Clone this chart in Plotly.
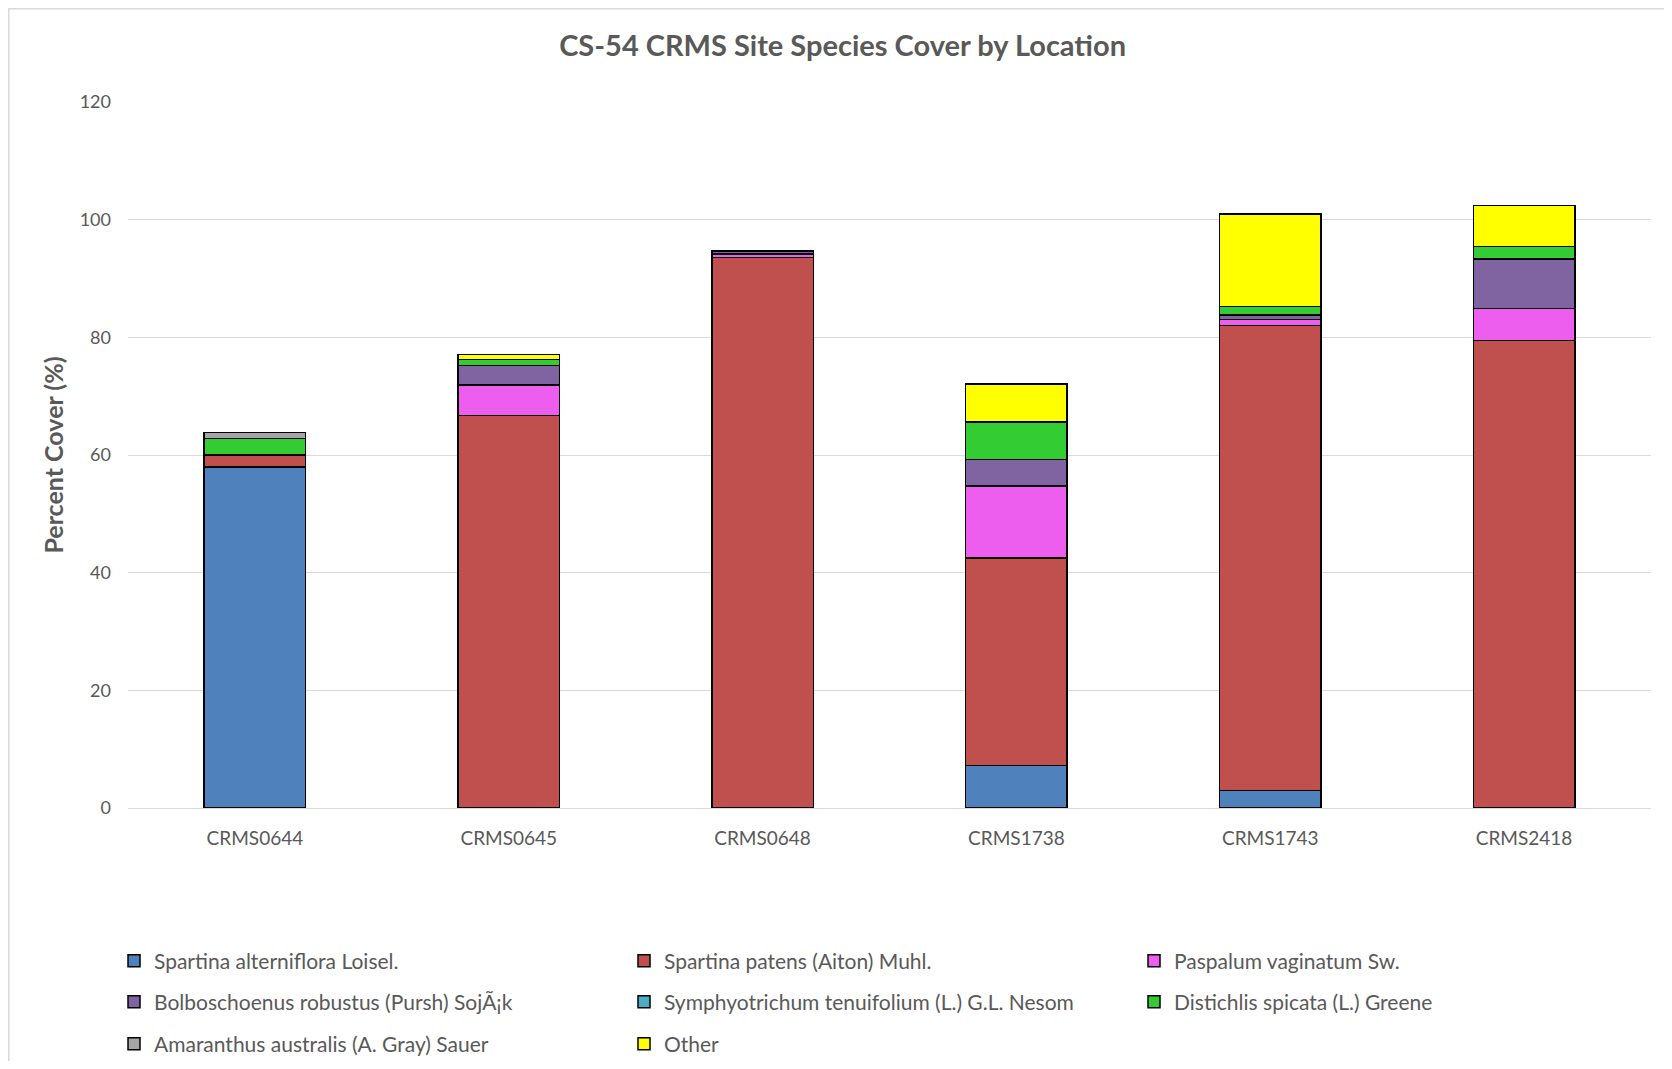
import plotly.graph_objects as go

sites = ["CRMS0644", "CRMS0645", "CRMS0648", "CRMS1738", "CRMS1743", "CRMS2418"]

species = [
    "Spartina alterniflora Loisel.",
    "Spartina patens (Aiton) Muhl.",
    "Paspalum vaginatum Sw.",
    "Bolboschoenus robustus (Pursh) SojÃ¡k",
    "Symphyotrichum tenuifolium (L.) G.L. Nesom",
    "Distichlis spicata (L.) Greene",
    "Amaranthus australis (A. Gray) Sauer",
    "Other",
]

spartina_alterniflora = [58.0, 0.0, 0.0, 7.2, 3.0, 0.0]
spartina_patens = [2.0, 66.7, 93.6, 35.3, 79.0, 79.5]
paspalum_vaginatum = [0.0, 5.2, 0.6, 12.2, 1.0, 5.4]
bolboschoenus_robustus = [0.0, 3.3, 0.5, 4.5, 0.8, 8.4]
symphyotrichum_tenuifolium = [0.0, 0.0, 0.0, 0.0, 0.0, 0.0]
distichlis_spicata = [2.8, 1.0, 0.0, 6.4, 1.4, 2.1]
amaranthus_australis = [1.0, 0.0, 0.0, 0.0, 0.0, 0.0]
other = [0.0, 0.9, 0.0, 6.5, 15.8, 7.0]

series = [
    spartina_alterniflora, spartina_patens, paspalum_vaginatum, bolboschoenus_robustus,
    symphyotrichum_tenuifolium, distichlis_spicata, amaranthus_australis, other,
]
colors = ["#4f81bd", "#c0504d", "#ee5eee", "#8064a2", "#4bacc6", "#33cc33", "#a5a5a5", "#ffff00"]
legend_ids = ["legend", "legend", "legend", "legend2", "legend2", "legend2", "legend3", "legend3"]

FONT = "Lato, 'Open Sans', sans-serif"
GREY = "#595959"

fig = go.Figure()
for name, vals, col, lg in zip(species, series, colors, legend_ids):
    fig.add_trace(go.Bar(
        x=sites, y=vals, name=name, legend=lg,
        marker=dict(color=col, line=dict(color="#000000", width=1.5)),
    ))

# page body has an 8px margin, so figure coords = screen coords - 8
W, H = 1656, 1053
L, R, T, B = 120, 13, 94, 253
pw, ph = W - L - R, H - T - B

def py(p):
    return (H - B - p) / ph

def px_(p):
    return (p - L) / pw

legend_common = dict(
    orientation="h", xanchor="left", yanchor="middle", x=px_(106),
    entrywidth=465, entrywidthmode="pixels", traceorder="normal",
    font=dict(family=FONT, size=21, color=GREY), bgcolor="rgba(0,0,0,0)",
)

fig.update_layout(
    width=W, height=H,
    margin=dict(l=L, r=R, t=T, b=B, autoexpand=False),
    barmode="stack", bargap=0.6,
    paper_bgcolor="white", plot_bgcolor="white",
    font=dict(family=FONT, color=GREY),
    title=dict(text="<b>CS-54 CRMS Site Species Cover by Location</b>", x=0.504, xanchor="center",
               y=1 - 38 / H, yanchor="middle", font=dict(family=FONT, size=29, color=GREY)),
    xaxis=dict(showgrid=False, showline=False, tickfont=dict(family=FONT, size=19, color=GREY),
               ticks="outside", ticklen=13, tickcolor="rgba(0,0,0,0)"),
    yaxis=dict(range=[0, 120], dtick=20, showgrid=True, gridcolor="#d9d9d9", gridwidth=1,
               zeroline=True, zerolinecolor="#d9d9d9", zerolinewidth=1, showline=False,
               tickfont=dict(family=FONT, size=18, color=GREY), ticklabelstandoff=16,
               title=dict(text="<b>Percent Cover (%)</b>", font=dict(family=FONT, size=25, color=GREY),
                          standoff=8)),
    legend=dict(**legend_common, y=py(953)),
    legend2=dict(**legend_common, y=py(994)),
    legend3=dict(**legend_common, y=py(1036)),
    shapes=[dict(type="rect", xref="paper", yref="paper",
                 x0=px_(0.75), x1=px_(W + 20), y0=py(H + 20), y1=py(0.75),
                 line=dict(color="#d9d9d9", width=1.5), fillcolor="rgba(0,0,0,0)", layer="below")],
)

fig.write_html("out.html")
